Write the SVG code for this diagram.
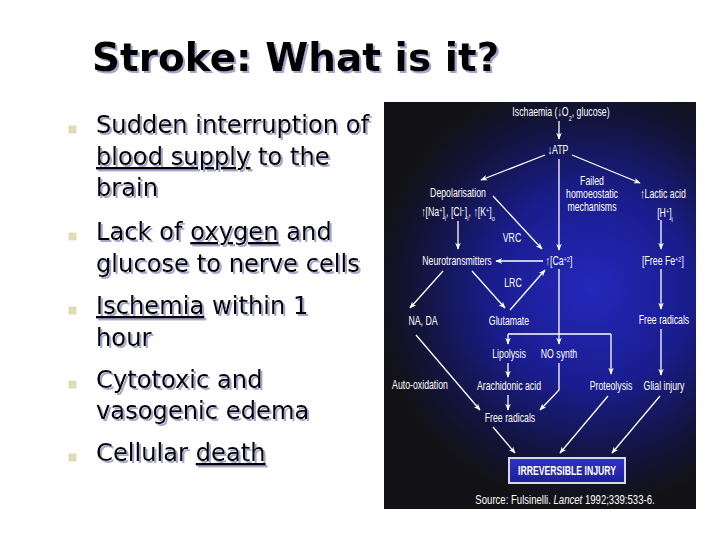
<svg xmlns="http://www.w3.org/2000/svg" width="720" height="540" viewBox="0 0 720 540">
<defs>
<radialGradient id="bg" gradientUnits="userSpaceOnUse" cx="590" cy="290" r="215">
<stop offset="0" stop-color="#2428bc"/>
<stop offset="0.45" stop-color="#1a1d8e"/>
<stop offset="0.8" stop-color="#12143c"/>
<stop offset="1" stop-color="#121216"/>
</radialGradient>
<linearGradient id="boxg" x1="0" y1="0" x2="0" y2="1">
<stop offset="0" stop-color="#2f33c8"/>
<stop offset="1" stop-color="#1c1f96"/>
</linearGradient>
<filter id="shadow" x="-5%" y="-20%" width="110%" height="140%">
<feDropShadow dx="2" dy="2" stdDeviation="0.3" flood-color="#a4a4cc" flood-opacity="1"/>
</filter>
<marker id="ah" viewBox="0 0 10 10" refX="9" refY="5" markerWidth="7" markerHeight="7" markerUnits="userSpaceOnUse" orient="auto">
<path d="M0,1 L10,5 L0,9 L3,5 z" fill="#ffffff"/>
</marker>
</defs>
<style>
.t{font-family:"DejaVu Sans",Verdana,sans-serif;font-weight:bold;font-size:39px;fill:#000000}
.b{font-family:"DejaVu Sans",Verdana,sans-serif;font-size:24.2px;fill:#000000}
.u{text-decoration:underline}
.bul{fill:#e2dfb4;stroke:#c9c6a0;stroke-width:0.5}
.l{font-family:"Liberation Sans",Arial,sans-serif;font-size:12.5px;fill:#ffffff;text-anchor:middle}
.bold{font-weight:bold}
.sup{font-size:8px;baseline-shift:super}
.sub{font-size:8px;baseline-shift:sub}
.c{stroke:#ffffff;stroke-width:1.3;fill:none}
.ca{stroke:#ffffff;stroke-width:1.3;fill:none;marker-end:url(#ah)}
</style>
<rect x="0" y="0" width="720" height="540" fill="#ffffff"/>

<g id="title" filter="url(#shadow)">
<text class="t" x="92" y="71">Stroke: What is it?</text>
</g>

<g id="bullets">
<rect class="bul" x="69" y="126" width="7" height="7"/>
<rect class="bul" x="69" y="233" width="7" height="7"/>
<rect class="bul" x="69" y="307" width="7" height="7"/>
<rect class="bul" x="69" y="381" width="7" height="7"/>
<rect class="bul" x="69" y="454" width="7" height="7"/>
<g class="b" filter="url(#shadow)">
<text x="96" y="133">Sudden interruption of</text>
<text x="96" y="165"><tspan class="u">blood supply</tspan> to the</text>
<text x="96" y="196">brain</text>
<text x="96" y="240">Lack of <tspan class="u">oxygen</tspan> and</text>
<text x="96" y="272">glucose to nerve cells</text>
<text x="96" y="314"><tspan class="u">Ischemia</tspan> within 1</text>
<text x="96" y="346">hour</text>
<text x="96" y="388">Cytotoxic and</text>
<text x="96" y="419">vasogenic edema</text>
<text x="96" y="461">Cellular <tspan class="u">death</tspan></text>
</g>
</g>

<rect id="panel" x="384" y="102" width="312" height="407" fill="url(#bg)"/>

<g id="connectors">
<line class="ca" x1="559" y1="121" x2="559" y2="139"/>
<line class="ca" x1="545" y1="155" x2="481" y2="180"/>
<line class="ca" x1="572" y1="155" x2="640" y2="183"/>
<line class="ca" x1="559" y1="159" x2="559" y2="250"/>
<line class="ca" x1="458" y1="221" x2="458" y2="249"/>
<line class="ca" x1="493" y1="196" x2="542" y2="249"/>
<line class="ca" x1="661" y1="220" x2="661" y2="249"/>
<line class="ca" x1="543" y1="261" x2="496" y2="261"/>
<line class="ca" x1="510" y1="310" x2="545" y2="270"/>
<line class="ca" x1="443" y1="271" x2="410" y2="308"/>
<line class="ca" x1="472" y1="271" x2="505" y2="308"/>
<line class="ca" x1="661" y1="269" x2="661" y2="309"/>
<line class="ca" x1="559" y1="269" x2="559" y2="344"/>
<line class="c" x1="508" y1="334" x2="611" y2="334"/>
<line class="ca" x1="508" y1="334" x2="508" y2="344"/>
<line class="ca" x1="611" y1="334" x2="611" y2="374"/>
<line class="ca" x1="508" y1="363" x2="508" y2="377"/>
<line class="ca" x1="508" y1="395" x2="508" y2="410"/>
<polyline class="ca" points="559,363 559,390 540,410"/>
<line class="ca" x1="416" y1="335" x2="480" y2="410"/>
<line class="ca" x1="661" y1="329" x2="661" y2="375"/>
<line class="ca" x1="493" y1="427" x2="515" y2="453"/>
<line class="ca" x1="608" y1="396" x2="560" y2="453"/>
<line class="ca" x1="660" y1="396" x2="612" y2="453"/>
</g>

<g id="n-ischaemia"><text class="l" transform="translate(561,116) scale(0.7,1)">Ischaemia (↓O<tspan class="sub">2</tspan>, glucose)</text></g>
<g id="n-atp"><text class="l" transform="translate(558,154) scale(0.7,1)">↓ATP</text></g>
<g id="n-depol">
<text class="l" transform="translate(458,197) scale(0.7,1)">Depolarisation</text>
<text class="l" transform="translate(458,216) scale(0.7,1)">↑[Na<tspan class="sup">+</tspan>]<tspan class="sub">i</tspan>, [Cl<tspan class="sup">−</tspan>]<tspan class="sub">i</tspan>, ↑[K<tspan class="sup">+</tspan>]<tspan class="sub">o</tspan></text>
</g>
<g id="n-failed">
<text class="l" transform="translate(592,185) scale(0.7,1)">Failed</text>
<text class="l" transform="translate(592,198) scale(0.7,1)">homoeostatic</text>
<text class="l" transform="translate(592,211) scale(0.7,1)">mechanisms</text>
</g>
<g id="n-lactic">
<text class="l" transform="translate(663,198) scale(0.7,1)">↑Lactic acid</text>
<text class="l" transform="translate(665,217) scale(0.7,1)">[H<tspan class="sup">+</tspan>]<tspan class="sub">i</tspan></text>
</g>
<g id="n-vrc"><text class="l" transform="translate(512,242) scale(0.7,1)">VRC</text></g>
<g id="n-neuro"><text class="l" transform="translate(457,265) scale(0.7,1)">Neurotransmitters</text></g>
<g id="n-ca"><text class="l" transform="translate(559,265) scale(0.7,1)">↑[Ca<tspan class="sup">+2</tspan>]</text></g>
<g id="n-fe"><text class="l" transform="translate(663,265) scale(0.7,1)">[Free Fe<tspan class="sup">+2</tspan>]</text></g>
<g id="n-lrc"><text class="l" transform="translate(513,287) scale(0.7,1)">LRC</text></g>
<g id="n-nada"><text class="l" transform="translate(423,325) scale(0.7,1)">NA, DA</text></g>
<g id="n-glutamate"><text class="l" transform="translate(509,325) scale(0.7,1)">Glutamate</text></g>
<g id="n-freerad1"><text class="l" transform="translate(664,324) scale(0.7,1)">Free radicals</text></g>
<g id="n-lipolysis"><text class="l" transform="translate(509,358) scale(0.7,1)">Lipolysis</text></g>
<g id="n-nosynth"><text class="l" transform="translate(559,358) scale(0.7,1)">NO synth</text></g>
<g id="n-autoox"><text class="l" transform="translate(420,389) scale(0.7,1)">Auto-oxidation</text></g>
<g id="n-arach"><text class="l" transform="translate(509,390) scale(0.7,1)">Arachidonic acid</text></g>
<g id="n-proteo"><text class="l" transform="translate(611,390) scale(0.7,1)">Proteolysis</text></g>
<g id="n-glial"><text class="l" transform="translate(664,390) scale(0.7,1)">Glial injury</text></g>
<g id="n-freerad2"><text class="l" transform="translate(510,422) scale(0.7,1)">Free radicals</text></g>
<g id="n-irrev">
<rect x="509" y="458" width="116" height="25" fill="url(#boxg)" stroke="#d8d8e8" stroke-width="2"/>
<text class="l bold" transform="translate(567,475) scale(0.694,1)">IRREVERSIBLE INJURY</text>
</g>
<g id="source"><text class="l" style="font-size:13.5px" transform="translate(565,504) scale(0.71,1)">Source: Fulsinelli. <tspan font-style="italic">Lancet</tspan> 1992;339:533-6.</text></g>
</svg>
